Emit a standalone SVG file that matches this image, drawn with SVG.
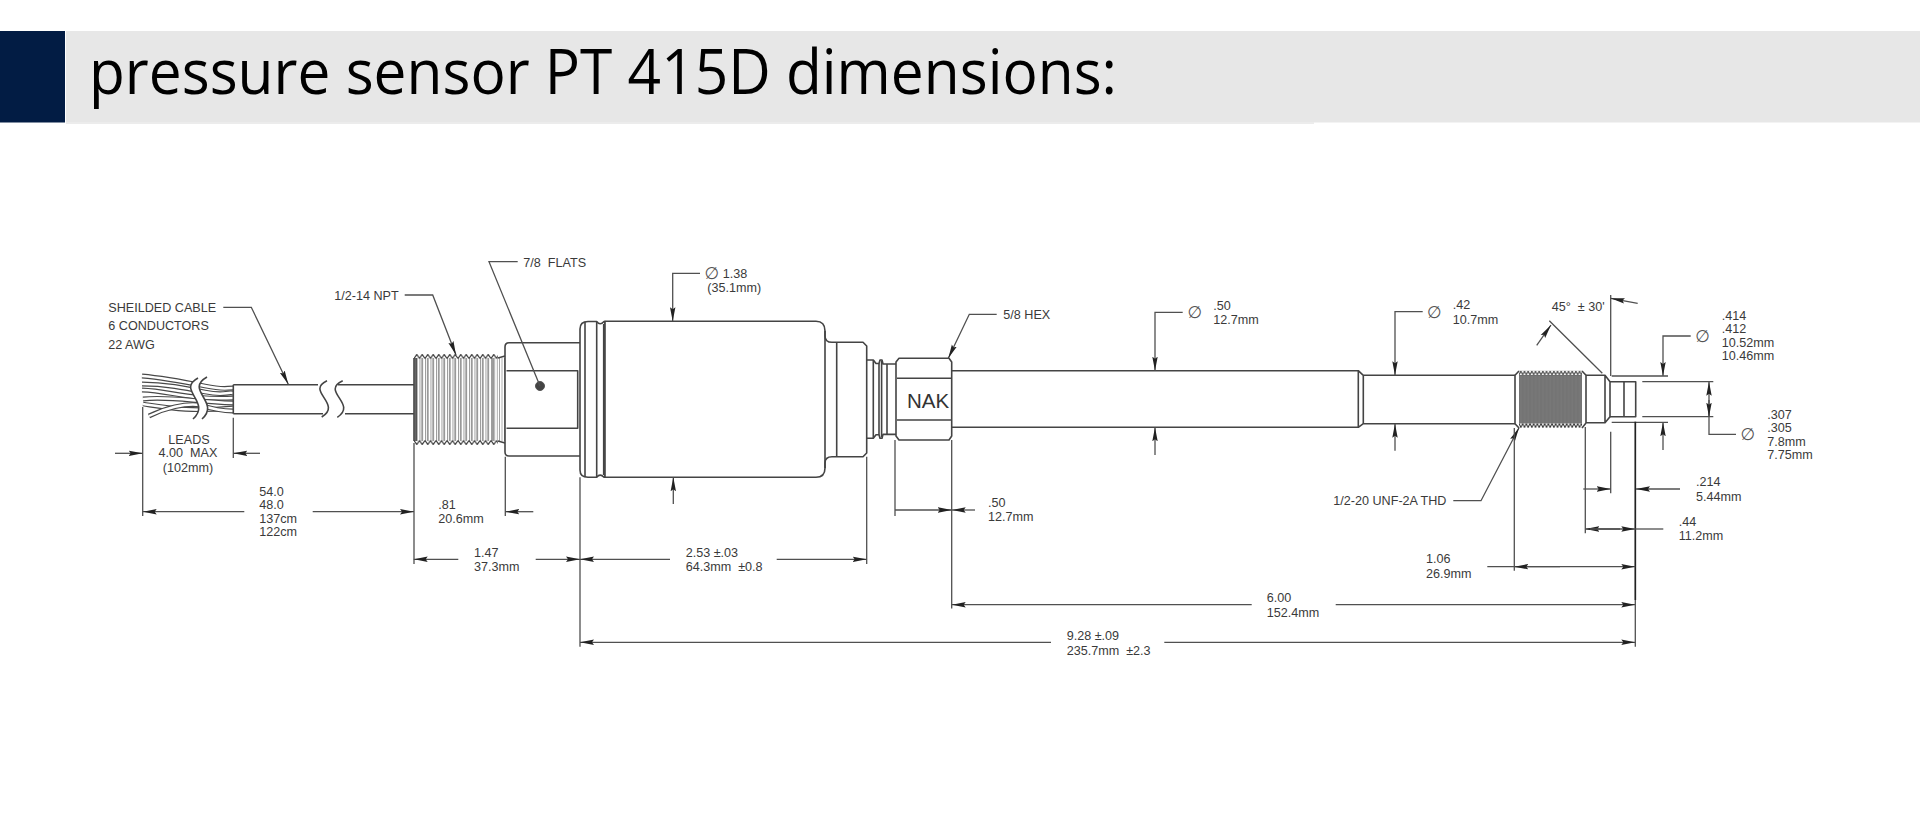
<svg xmlns="http://www.w3.org/2000/svg" width="1920" height="817" viewBox="0 0 1920 817">
<style>
.o{fill:none;stroke:#444;stroke-width:1.6;stroke-linejoin:round}
.f{fill:#fff;stroke:#444;stroke-width:1.6;stroke-linejoin:round}
.d{fill:none;stroke:#505050;stroke-width:1.3}
.k{fill:none;stroke:#222;stroke-width:1.7}
.a{marker-end:url(#ah)}
.t{font-family:"Liberation Sans",Arial,sans-serif;font-size:12.6px;fill:#3a3a3a;white-space:pre}
.p{font-family:"DejaVu Sans",sans-serif;font-size:17px;fill:#555;text-anchor:middle;dominant-baseline:central}
</style>
<defs>
<marker id="ah" markerUnits="userSpaceOnUse" markerWidth="14" markerHeight="8" refX="14" refY="4" orient="auto"><path d="M0,1.3 L14,4 L0,6.7 L2,4 Z" fill="#222"/></marker>
<pattern id="nptTop" patternUnits="userSpaceOnUse" x="414" y="354" width="5.5" height="5"><path d="M0,4.5 L2.75,0.5 L5.5,4.5" fill="none" stroke="#333" stroke-width="1.2"/></pattern>
<pattern id="nptBot" patternUnits="userSpaceOnUse" x="414" y="440" width="5.5" height="5"><path d="M0,0.5 L2.75,4.5 L5.5,0.5" fill="none" stroke="#333" stroke-width="1.2"/></pattern>
<pattern id="nptBody" patternUnits="userSpaceOnUse" x="414" y="354" width="5.5" height="10"><path d="M0,0V10M2.75,0V10" stroke="#555" stroke-width="1.1"/></pattern>
<pattern id="nptEnd" patternUnits="userSpaceOnUse" x="492" y="354" width="2.4" height="10"><path d="M0,0V10" stroke="#555" stroke-width="1"/></pattern>
<pattern id="unfTop" patternUnits="userSpaceOnUse" x="1519" y="370.5" width="3.67" height="5"><path d="M0,4.5 L1.83,0.5 L3.67,4.5" fill="none" stroke="#333" stroke-width="1"/></pattern>
<pattern id="unfBot" patternUnits="userSpaceOnUse" x="1519" y="423" width="3.67" height="5"><path d="M0,0.5 L1.83,4.5 L3.67,0.5" fill="none" stroke="#333" stroke-width="1"/></pattern>
<pattern id="unfBody" patternUnits="userSpaceOnUse" x="1519" y="370" width="3.67" height="10"><rect width="3.67" height="10" fill="#8c8c8c"/><path d="M0.9,0V10M2.8,0V10" stroke="#5c5c5c" stroke-width="0.9"/></pattern>
<path id="w1" d="M142,376 C165,378 185,382 205,386 S225,388 233,388"/>
<path id="w2" d="M142,384 C165,384 185,388 205,392 S225,392 233,393"/>
<path id="w3" d="M142,390 C170,391 190,400 233,398"/>
<path id="w4" d="M143,399 C170,396 195,402 233,403"/>
<path id="w5" d="M143,404 C170,408 190,412 233,408"/>
<path id="w6" d="M149,416 C165,408 185,403 200,405 C215,410 225,411 233,411"/>
</defs>
<rect width="1920" height="817" fill="#fff"/>
<g id="title-bar">
<rect x="0" y="31" width="65" height="91.5" fill="#021c44"/>
<rect x="66" y="31" width="1854" height="91.5" fill="#e7e7e7"/>
<rect x="66" y="122" width="1248" height="2" fill="#ececec"/>
<text x="89" y="93.5" font-family="'Open Sans',sans-serif" font-size="62" fill="#000" textLength="1028" lengthAdjust="spacingAndGlyphs">pressure sensor PT 415D dimensions:</text>
</g>

<g id="cable">
<g fill="none" stroke-linecap="butt">
<use href="#w1" stroke="#484848" stroke-width="4.8"/><use href="#w1" stroke="#fff" stroke-width="2.5"/>
<use href="#w2" stroke="#484848" stroke-width="4.8"/><use href="#w2" stroke="#fff" stroke-width="2.5"/>
<use href="#w3" stroke="#484848" stroke-width="4.8"/><use href="#w3" stroke="#fff" stroke-width="2.5"/>
<use href="#w4" stroke="#484848" stroke-width="4.8"/><use href="#w4" stroke="#fff" stroke-width="2.5"/>
<use href="#w5" stroke="#484848" stroke-width="4.8"/><use href="#w5" stroke="#fff" stroke-width="2.5"/>
<use href="#w6" stroke="#484848" stroke-width="4.8"/><use href="#w6" stroke="#fff" stroke-width="2.5"/>
</g>
<path d="M198,378 C176,390 212,402 193,419 L202,419 C221,402 184,390 207,377 Z" fill="#fff"/>
<path class="o" d="M198,378 C176,390 212,402 193,419 M207,377 C184,390 221,402 202,419"/>
<path class="o" d="M233.3,384.7 H318 M338,384.7 H414 M233.3,413.7 H323 M345,413.7 H414 M233.3,384.7 V413.7"/>
<path class="o" d="M327,380.7 C305,391 343,404 321.7,417 M342.7,380.7 C320,391 358,404 337.3,417.3"/>
</g>

<g id="npt-thread">
<rect x="414" y="358" width="80" height="83" fill="url(#nptBody)"/>
<rect x="492" y="358" width="13" height="83" fill="url(#nptEnd)"/>
<rect x="414" y="354" width="84" height="5" fill="url(#nptTop)"/>
<rect x="414" y="440" width="84" height="5" fill="url(#nptBot)"/>
<path class="o" d="M414,358 V441 M416,358 V441 M498,358 L505,356 M498,441 L505,443"/>
</g>

<g id="flats-body">
<path class="o" d="M505,347 Q505,342.7 509,342.7 H580 M505,452 Q505,456 509,456 H580 M505,347 V452"/>
<path class="o" d="M506.5,370.7 H577.7 V428.3 H506.5"/>
<circle cx="540" cy="386" r="4.5" fill="#444" stroke="#555"/>
</g>

<g id="flange">
<path class="f" d="M605,321.5 H604 Q600,326 596.7,321.5 H588 Q580,321.5 580,329 V470 Q580,477.3 588,477.3 H596.7 Q600,473 604,477.3 H605 Z"/>
<path class="o" d="M585,322 V477 M596.7,322 V477 M603.7,324 V475"/>
</g>

<g id="housing">
<path class="f" d="M605,321.3 H816 Q825,321.3 825,331 V336 Q825,342.3 832,342.3 H863 L866.7,346 V453 L863,456.7 H832 Q825,456.7 825,463 V468 Q825,477.3 816,477.3 H605 Z"/>
<path class="o" d="M825,331 V468 M836.7,342.3 V456.7"/>
</g>

<g id="neck">
<path class="o" d="M866.7,360 H873.3 L876,363.5 H879 L880,360 H882 L883,364 H896 M866.7,438.3 H873.3 L876,434.8 H879 L880,438.3 H882 L883,434.4 H896"/>
<path class="o" d="M873.3,360 V438.3 M879,363.5 V434.8 M881.6,361 V437 M887,364 V434.4"/>
</g>

<g id="hex">
<path class="f" d="M896,362 L899,358.3 H949 L951.7,362 V436 L949,440 H899 L896,436 Z"/>
<path class="o" d="M897,378.3 H951 M897,420 H951"/>
<text class="t" x="907" y="408.3" style="font-size:20.5px;fill:#333">NAK</text>
</g>

<g id="rod">
<path class="o" d="M951.7,370.7 H1358.3 L1363.3,375.3 M951.7,427.3 H1358.3 L1363.3,423.7 M1358.3,370.7 V427.3 M1363.3,375.3 V423.7 M1363.3,375.3 H1515 M1363.3,423.7 H1515"/>
</g>

<g id="unf-thread">
<rect x="1519" y="375" width="63" height="48.5" fill="url(#unfBody)"/>
<rect x="1519" y="370.5" width="63" height="5" fill="url(#unfTop)"/>
<rect x="1519" y="423" width="63" height="5" fill="url(#unfBot)"/>
<path class="o" d="M1515,375.3 L1519,371 M1515,423.7 L1519,428 M1515,375.3 V423.7 M1582,371 L1586,375.3 M1582,428 L1586,423 M1586,375.3 V423"/>
</g>

<g id="tip">
<path class="o" d="M1586,375.3 H1605 L1610,381.7 V416.7 L1605,422.7 H1586 M1605,375.3 V422.7"/>
<path class="o" d="M1610,381.7 H1635.7 V416.7 H1610 M1624,381.7 V416.7"/>
</g>

<g id="connectors">
<path class="d a" d="M223.3,307.3 H251.3 L288.3,384.3"/>
<path class="d a" d="M404.7,295 H432.7 L456,355"/>
<path class="d" d="M517.7,261.7 H489 L540,386"/>
<path class="d a" d="M700,273.3 H672.7 V321.3"/>
<path class="d a" d="M673.3,504 V477.3"/>
<path class="d a" d="M996.7,314.3 H969.3 L948.3,358.3"/>
<path class="d a" d="M1182.7,312.3 H1155 V370.7"/>
<path class="d a" d="M1155,455 V427.3"/>
<path class="d a" d="M1422.7,311.7 H1395 V375.3"/>
<path class="d a" d="M1395,450.7 V423.7"/>
<path class="d a" d="M1690.7,336 H1663 V376"/>
<path class="d a" d="M1663,450 V422.3"/>
<path class="d" d="M1611.7,376 H1668 M1611.7,422.3 H1668 M1642.3,381.7 H1713.3 M1642.3,416.7 H1713.3"/>
<path class="d a" d="M1736,434.3 H1709 V381.7"/>
<path class="d a" d="M1709,400 V416.7"/>
<path class="d" d="M1610.7,295 V376 M1549.3,320.7 L1602.3,373.3"/>
<path class="d a" d="M1637.7,303.3 L1610.7,298.3"/>
<path class="d a" d="M1536.7,345.3 L1551,325"/>
<path class="d a" d="M1453.3,500.7 H1481 L1519,427.7"/>
<path class="d" d="M142.7,407 V516 M233.3,417.7 V458 M414,443 V564 M505.3,456.7 V516 M580,477.3 V646.7 M866.7,456.7 V564 M895,440 V516 M951.7,440 V608.6 M1514.3,428 V570.7 M1585.3,427 V533.3 M1610.7,431.7 V493.3"/>
<path class="k" d="M1635.3,421.7 V600"/>
<path class="d" d="M1635.3,600 V646.7"/>
<path class="d a" d="M115,453.3 H142.7"/>
<path class="d a" d="M260,453.3 H233.3"/>
<path class="d a" d="M244.3,511.7 H142.7"/>
<path class="d a" d="M312.7,511.7 H414"/>
<path class="d a" d="M533.3,511.7 H505.3"/>
<path class="d a" d="M458.3,559.3 H413.7"/>
<path class="d a" d="M535.7,559.3 H580"/>
<path class="d a" d="M670,559.3 H580"/>
<path class="d a" d="M776.7,559.3 H866.7"/>
<path class="d a" d="M895,510 H951.7"/>
<path class="d a" d="M975,510 H951.7"/>
<path class="d a" d="M1251.7,604.7 H951.7"/>
<path class="d a" d="M1335.7,604.7 H1635.3"/>
<path class="d a" d="M1051,642.3 H580"/>
<path class="d a" d="M1164.3,642.3 H1635.3"/>
<path class="d a" d="M1487.3,566.7 H1635.3"/>
<path class="d a" d="M1560,566.7 H1514.3"/>
<path class="d a" d="M1583.3,489 H1610.7"/>
<path class="d a" d="M1680,489 H1636"/>
<path class="d a" d="M1620,529 H1585.3"/>
<path class="d a" d="M1590,529 H1635.3"/>
<path class="d" d="M1635.3,529 H1663.3"/>
</g>

<g id="labels">
<text class="t" x="108.3" y="312.3">SHEILDED CABLE</text>
<text class="t" x="108.3" y="330.3">6 CONDUCTORS</text>
<text class="t" x="108.3" y="348.7">22 AWG</text>
<text class="t" x="334.3" y="300">1/2-14 NPT</text>
<text class="t" x="523.3" y="267.3">7/8  FLATS</text>
<text class="t" x="189" y="444.3" text-anchor="middle">LEADS</text>
<text class="t" x="188" y="457.3" text-anchor="middle">4.00  MAX</text>
<text class="t" x="188" y="471.7" text-anchor="middle">(102mm)</text>
<text class="t" x="259.3" y="496">54.0</text>
<text class="t" x="259.3" y="509">48.0</text>
<text class="t" x="259.3" y="523.3">137cm</text>
<text class="t" x="259.3" y="536">122cm</text>
<text class="t" x="438.3" y="509">.81</text>
<text class="t" x="438.3" y="523.3">20.6mm</text>
<text class="t" x="474" y="556.7">1.47</text>
<text class="t" x="474" y="571">37.3mm</text>
<text class="t" x="685.7" y="556.7">2.53 ±.03</text>
<text class="t" x="685.7" y="571">64.3mm  ±0.8</text>
<text class="p" x="712" y="273.3">∅</text>
<text class="t" x="722.7" y="278.3">1.38</text>
<text class="t" x="707.3" y="291.7">(35.1mm)</text>
<text class="t" x="1003.3" y="319.3">5/8 HEX</text>
<text class="t" x="988" y="506.7">.50</text>
<text class="t" x="988" y="521">12.7mm</text>
<text class="p" x="1195" y="312.3">∅</text>
<text class="t" x="1213.3" y="310">.50</text>
<text class="t" x="1213.3" y="324.3">12.7mm</text>
<text class="p" x="1434.3" y="311.7">∅</text>
<text class="t" x="1452.7" y="309.3">.42</text>
<text class="t" x="1452.7" y="323.7">10.7mm</text>
<text class="t" x="1551.7" y="311">45°  ± 30'</text>
<text class="p" x="1702.7" y="335.7">∅</text>
<text class="t" x="1721.7" y="320">.414</text>
<text class="t" x="1721.7" y="333.3">.412</text>
<text class="t" x="1721.7" y="347.3">10.52mm</text>
<text class="t" x="1721.7" y="360">10.46mm</text>
<text class="p" x="1748" y="434">∅</text>
<text class="t" x="1767.3" y="419">.307</text>
<text class="t" x="1767.3" y="432">.305</text>
<text class="t" x="1767.3" y="446">7.8mm</text>
<text class="t" x="1767.3" y="459">7.75mm</text>
<text class="t" x="1696" y="486">.214</text>
<text class="t" x="1696" y="500.7">5.44mm</text>
<text class="t" x="1678.7" y="526">.44</text>
<text class="t" x="1678.7" y="540.3">11.2mm</text>
<text class="t" x="1426" y="563.3">1.06</text>
<text class="t" x="1426" y="577.7">26.9mm</text>
<text class="t" x="1333.3" y="505.3">1/2-20 UNF-2A THD</text>
<text class="t" x="1266.7" y="601.7">6.00</text>
<text class="t" x="1266.7" y="616.7">152.4mm</text>
<text class="t" x="1066.7" y="640">9.28 ±.09</text>
<text class="t" x="1066.7" y="654.7">235.7mm  ±2.3</text>
</g>
</svg>
